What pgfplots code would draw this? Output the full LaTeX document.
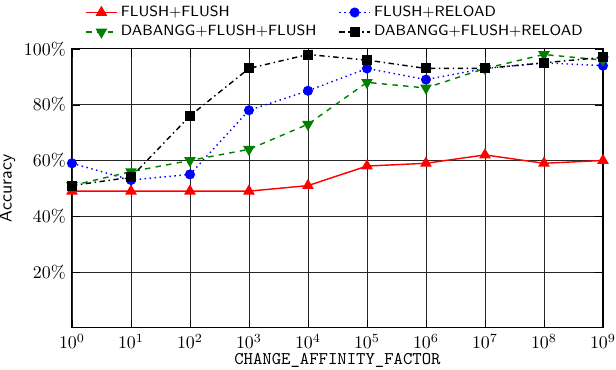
\documentclass[border=0pt]{standalone}
\usepackage{pgfplots}
\pgfplotsset{compat=1.18}
\begin{document}
\begin{tikzpicture}
\begin{axis}[
  name=ax,
  scale only axis,
  width=297.4pt, height=156.2pt,
  xmode=log, xmin=1, xmax=1e9,
  xtick={1,10,100,1000,10000,100000,1000000,10000000,100000000,1000000000},
  xminorticks=false,
  ymin=0, ymax=100,
  ytick={20,40,60,80,100},
  yticklabel={\pgfmathprintnumber{\tick}\%},
  grid=major,
  grid style={black!85, line width=0.5pt},
  axis line style={black, line width=0.6pt},
  tick style={black},
  xlabel={\texttt{CHANGE\_AFFINITY\_FACTOR}},
  ylabel={\sffamily Accuracy},
  xlabel style={yshift=4pt},
  ylabel style={yshift=-2pt},
  legend columns=2,
  legend style={draw=none, fill=none, at={(0.497,1.01)}, anchor=south,
    font=\sffamily\fontsize{8.3}{10}\selectfont, row sep=-0.5pt},
  legend cell align=left,
  /tikz/every even column/.append style={column sep=10.5pt},
]
\addplot[red, line width=0.8pt, mark=triangle*, mark size=3pt, mark options={solid}] coordinates {
(1,49) (10,49) (100,49) (1000,49) (10000,51) (100000,58) (1000000,59) (10000000,62) (100000000,59) (1000000000,60)};
\addlegendentry{FLUSH+FLUSH}
\addplot[blue, line width=0.8pt, dotted, mark=*, mark size=2.4pt, mark options={solid}] coordinates {
(1,59) (10,53) (100,55) (1000,78) (10000,85) (100000,93) (1000000,89) (10000000,93) (100000000,95) (1000000000,94)};
\addlegendentry{FLUSH+RELOAD}
\addplot[green!50!black, line width=0.8pt, dashed, mark=triangle*, mark size=3pt, mark options={solid, rotate=180}] coordinates {
(1,51) (10,56) (100,60) (1000,64) (10000,73) (100000,88) (1000000,86) (10000000,93) (100000000,98) (1000000000,96)};
\addlegendentry{DABANGG+FLUSH+FLUSH}
\addplot[black, line width=0.8pt, dash dot, mark=square*, mark size=2.4pt, mark options={solid}] coordinates {
(1,51) (10,54) (100,76) (1000,93) (10000,98) (100000,96) (1000000,93) (10000000,93) (100000000,95) (1000000000,97)};
\addlegendentry{DABANGG+FLUSH+RELOAD}
\end{axis}
\pgfresetboundingbox
\path[use as bounding box] ([xshift=-40.3pt, yshift=-23.5pt]ax.south west) rectangle ([xshift=7.3pt, yshift=27.4pt]ax.north east);
\end{tikzpicture}
\end{document}
